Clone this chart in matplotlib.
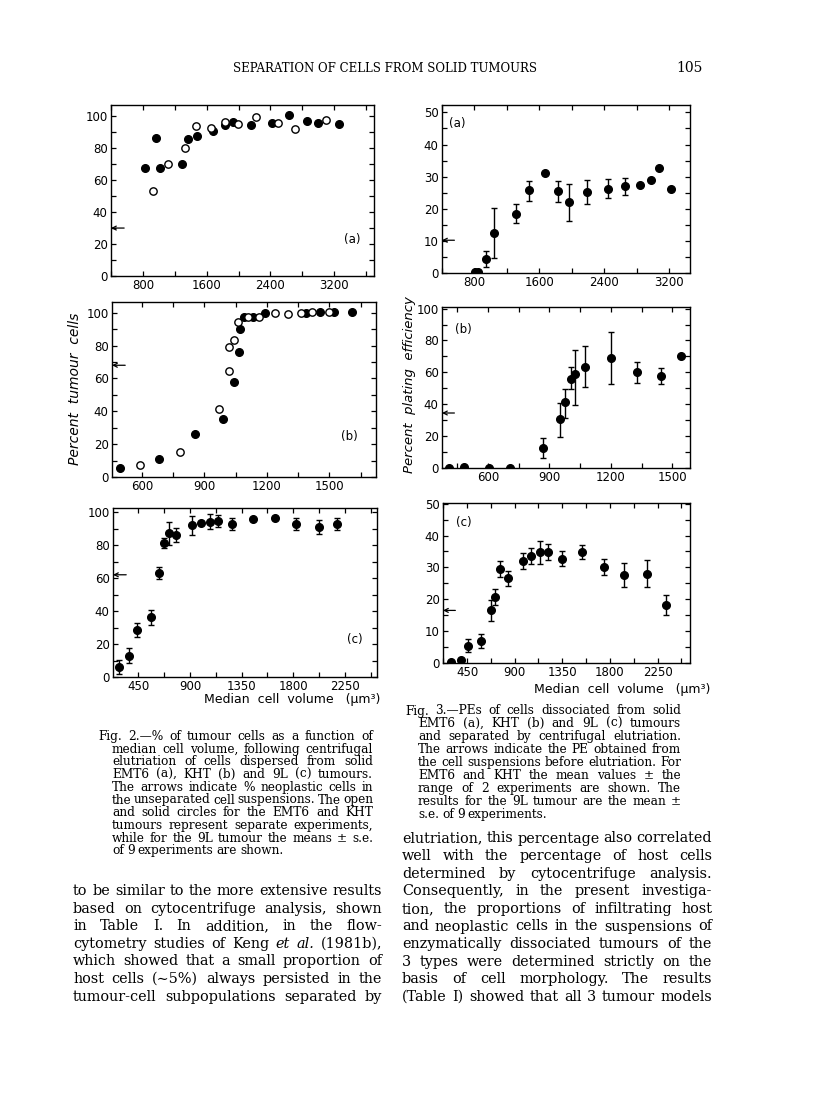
import matplotlib
matplotlib.use("Agg")
import matplotlib.pyplot as plt
from matplotlib.ticker import MultipleLocator

W, H = 816, 1115

# --- Fig. 2: percent tumour cells vs median cell volume ---
f2a_solid_x = [821, 967, 1013, 1288, 1363, 1475, 1675, 1830, 1934, 2155, 2417, 2634, 2863, 3000, 3267]
f2a_solid_y = [67.8, 86.5, 67.8, 69.9, 85.7, 87.5, 90.6, 94.2, 96.3, 94.4, 95.6, 100.6, 96.9, 96.0, 95.0]
f2a_open_x = [921, 1121, 1330, 1463, 1659, 1825, 1996, 2221, 2496, 2713, 3100]
f2a_open_y = [53.2, 69.9, 80.2, 93.6, 92.7, 96.5, 95.4, 99.6, 96.0, 91.7, 97.9]
f2a_arrow = 30

f2b_solid_x = [493, 683, 857, 988, 1041, 1067, 1073, 1092, 1132, 1193, 1386, 1455, 1522, 1607]
f2b_solid_y = [5.7, 11.2, 26.2, 35.2, 57.9, 76.0, 90.2, 97.2, 97.2, 99.6, 100.0, 100.6, 100.6, 100.6]
f2b_open_x = [589, 782, 969, 1020, 1020, 1043, 1063, 1108, 1163, 1238, 1300, 1365, 1418, 1497]
f2b_open_y = [7.1, 15.2, 41.3, 64.4, 79.1, 83.5, 94.5, 97.2, 97.2, 99.6, 99.2, 100.0, 100.4, 100.6]
f2b_arrow = 68

f2c_x = [282, 372, 441, 557, 633, 676, 720, 781, 917, 999, 1071, 1141, 1266, 1446, 1637, 1823, 2026, 2183]
f2c_y = [6.1, 13.0, 28.4, 36.1, 63.3, 81.3, 87.2, 86.0, 92.1, 93.3, 94.3, 94.7, 92.9, 95.9, 96.3, 92.7, 91.1, 92.7]
f2c_err = [4.2, 4.3, 4.3, 4.8, 3.6, 3.3, 6.9, 4.4, 5.8, 0, 4.5, 3.8, 3.8, 0, 0, 3.8, 4.3, 3.8]
f2c_arrow = 62

# --- Fig. 3: plating efficiency vs median cell volume ---
f3a_x = [812, 845, 944, 1046, 1317, 1469, 1670, 1830, 1961, 2187, 2453, 2659, 2843, 2979, 3081, 3225]
f3a_y = [0.3, 0.3, 4.5, 12.6, 18.5, 25.7, 31.2, 25.4, 22.0, 25.2, 26.2, 27.0, 27.3, 29.1, 32.6, 26.1]
f3a_lo = [0, 0, 2.6, 7.8, 3.0, 3.3, 0, 3.3, 5.8, 3.6, 2.7, 2.6, 0, 0, 0, 0]
f3a_hi = [0, 0, 2.5, 7.7, 3.0, 3.0, 0, 3.3, 5.6, 3.6, 3.0, 2.6, 0, 0, 0, 0]
f3a_arrow = 10.2

f3b_x = [412, 481, 603, 706, 868, 954, 974, 1004, 1026, 1074, 1199, 1329, 1443, 1542]
f3b_y = [0.3, 0.4, 0.3, 0.3, 12.8, 30.5, 41.2, 56.1, 59.2, 63.4, 69.2, 60.5, 57.7, 70.1]
f3b_lo = [0, 0, 0, 0, 6.5, 10.9, 9.8, 6.3, 19.9, 12.3, 16.2, 7.0, 5.2, 0]
f3b_hi = [0, 0, 0, 0, 6.1, 10.5, 8.6, 7.3, 14.6, 13.2, 16.1, 6.1, 5.0, 0]
f3b_arrow = 34.5

f3c_x = [298, 396, 458, 585, 673, 711, 758, 833, 975, 1058, 1142, 1217, 1346, 1541, 1749, 1931, 2152, 2331]
f3c_y = [0.3, 0.8, 5.4, 6.9, 16.5, 20.6, 29.5, 26.6, 32.0, 33.6, 34.8, 34.8, 32.7, 34.8, 30.0, 27.6, 28.0, 18.2]
f3c_err = [0, 0, 2.1, 2.3, 3.2, 2.5, 2.5, 2.4, 2.6, 2.6, 3.6, 2.4, 2.4, 2.3, 2.5, 3.9, 4.2, 3.1]
f3c_arrow = 16.5

fig2_caption = [
    "Fig. 2.\u2014% of tumour cells as a function of",
    "median cell volume, following centrifugal",
    "elutriation of cells dispersed from solid",
    "EMT6 (a), KHT (b) and 9L (c) tumours.",
    "The arrows indicate % neoplastic cells in",
    "the unseparated cell suspensions. The open",
    "and solid circles for the EMT6 and KHT",
    "tumours represent separate experiments,",
    "while for the 9L tumour the means \u00b1 s.e.",
    "of 9 experiments are shown.",
]
fig3_caption = [
    "Fig. 3.\u2014PEs of cells dissociated from solid",
    "EMT6 (a), KHT (b) and 9L (c) tumours",
    "and separated by centrifugal elutriation.",
    "The arrows indicate the PE obtained from",
    "the cell suspensions before elutriation. For",
    "EMT6 and KHT the mean values \u00b1 the",
    "range of 2 experiments are shown. The",
    "results for the 9L tumour are the mean \u00b1",
    "s.e. of 9 experiments.",
]
body_left = [
    "to be similar to the more extensive results",
    "based on cytocentrifuge analysis, shown",
    "in Table I. In addition, in the flow-",
    "cytometry studies of Keng _et _al. (1981b),",
    "which showed that a small proportion of",
    "host cells (\u223c5%) always persisted in the",
    "tumour-cell subpopulations separated by",
]
body_right = [
    "elutriation, this percentage also correlated",
    "well with the percentage of host cells",
    "determined by cytocentrifuge analysis.",
    "Consequently, in the present investiga-",
    "tion, the proportions of infiltrating host",
    "and neoplastic cells in the suspensions of",
    "enzymatically dissociated tumours of the",
    "3 types were determined strictly on the",
    "basis of cell morphology. The results",
    "(Table I) showed that all 3 tumour models",
]

plt.rcParams["font.family"] = "DejaVu Sans"
fig = plt.figure(figsize=(W / 100, H / 100), dpi=100)
fig.patch.set_facecolor("white")


def px_axes(left, top, right, bottom):
    return fig.add_axes([left / W, 1 - bottom / H, (right - left) / W, (bottom - top) / H])


def style(ax, xlim, ylim, xmaj, ymaj):
    ax.set_xlim(*xlim)
    ax.set_ylim(*ylim)
    ax.xaxis.set_major_locator(MultipleLocator(xmaj))
    ax.xaxis.set_minor_locator(MultipleLocator(xmaj / 2))
    ax.yaxis.set_major_locator(MultipleLocator(ymaj))
    ax.yaxis.set_minor_locator(MultipleLocator(ymaj / 2))
    ax.tick_params(which="both", direction="in", top=True, right=True,
                   length=3.5, width=0.9, labelsize=8.5, pad=2.5)
    for s in ax.spines.values():
        s.set_linewidth(1.0)


def arrow(ax, y):
    tr = ax.get_yaxis_transform()
    ax.annotate("", xy=(0.0, y), xycoords=tr, xytext=(0.05, y), textcoords=tr,
                arrowprops=dict(arrowstyle="->", lw=0.9, color="k", shrinkA=0, shrinkB=0,
                                mutation_scale=7),
                annotation_clip=False)


def solid(ax, x, y):
    ax.plot(x, y, "o", color="k", ms=5.5, ls="none", zorder=3)


def hollow(ax, x, y):
    ax.plot(x, y, "o", mfc="white", mec="k", mew=1.0, ms=5.3, ls="none", zorder=3)


def bars(ax, x, y, lo, hi):
    ax.errorbar(x, y, yerr=[lo, hi], fmt="o", color="k", ms=5.5, capsize=2,
                elinewidth=1.0, capthick=1.0, zorder=3)


# Fig. 2 (a)
ax = px_axes(111, 105, 374, 276)
style(ax, (400, 3700), (0, 107), 800, 20)
solid(ax, f2a_solid_x, f2a_solid_y)
hollow(ax, f2a_open_x, f2a_open_y)
arrow(ax, f2a_arrow)
ax.text(3430, 23, "(a)", fontsize=8.5, ha="center", va="center")

# Fig. 2 (b)
ax = px_axes(112, 302, 376, 477)
style(ax, (456, 1724), (0, 106.5), 300, 20)
solid(ax, f2b_solid_x, f2b_solid_y)
hollow(ax, f2b_open_x, f2b_open_y)
arrow(ax, f2b_arrow)
ax.text(1597, 24.5, "(b)", fontsize=8.5, ha="center", va="center")
fig.text(75 / W, 1 - 389 / H, "Percent  tumour  cells", fontsize=10, style="italic",
         rotation=90, ha="center", va="center")

# Fig. 2 (c)
ax = px_axes(113, 508, 377, 677)
style(ax, (229, 2529), (0, 102.5), 450, 20)
bars(ax, f2c_x, f2c_y, f2c_err, f2c_err)
arrow(ax, f2c_arrow)
ax.text(2340, 23, "(c)", fontsize=8.5, ha="center", va="center")
fig.text(292 / W, 1 - 700 / H, "Median  cell  volume   (\u03bcm\u00b3)", fontsize=9,
         ha="center", va="center")

# Fig. 3 (a)
ax = px_axes(442, 105, 690, 273)
style(ax, (400, 3460), (0, 52.3), 800, 10)
bars(ax, f3a_x, f3a_y, f3a_lo, f3a_hi)
arrow(ax, f3a_arrow)
ax.text(590, 46.5, "(a)", fontsize=8.5, ha="center", va="center")

# Fig. 3 (b)
ax = px_axes(442, 307, 690, 468)
style(ax, (376, 1586), (0, 101), 300, 20)
bars(ax, f3b_x, f3b_y, f3b_lo, f3b_hi)
arrow(ax, f3b_arrow)
ax.text(480, 87, "(b)", fontsize=8.5, ha="center", va="center")
fig.text(409 / W, 1 - 385 / H, "Percent  plating  efficiency", fontsize=9.5, style="italic",
         rotation=90, ha="center", va="center")

# Fig. 3 (c)
ax = px_axes(443, 503, 690, 663)
style(ax, (223, 2557), (0, 50.2), 450, 10)
bars(ax, f3c_x, f3c_y, f3c_err, f3c_err)
arrow(ax, f3c_arrow)
ax.text(420, 44.2, "(c)", fontsize=8.5, ha="center", va="center")
fig.text(622 / W, 1 - 690 / H, "Median  cell  volume   (\u03bcm\u00b3)", fontsize=9,
         ha="center", va="center")

# --- page text ---
renderer = fig.canvas.get_renderer()


def justified(lines, x_first, x_left, x_right, y0, dy, size, ragged_last):
    for i, line in enumerate(lines):
        xs = x_first if i == 0 else x_left
        yb = 1 - (y0 + i * dy) / H
        words = line.split(" ")
        items, widths = [], []
        for w in words:
            italic = w.startswith("_")
            t = fig.text(0, yb, w.lstrip("_"), fontsize=size, family="DejaVu Serif",
                         style="italic" if italic else "normal", va="baseline")
            items.append(t)
            widths.append(t.get_window_extent(renderer).width)
        if (ragged_last and i == len(lines) - 1) or len(words) == 1:
            gap = size * 0.35
        else:
            gap = (x_right - xs - sum(widths)) / (len(words) - 1)
        x = xs
        for t, w in zip(items, widths):
            t.set_x(x / W)
            x += w + gap


fig.text(385 / W, 1 - 72 / H, "SEPARATION OF CELLS FROM SOLID TUMOURS", fontsize=8.5,
         family="DejaVu Serif", ha="center", va="baseline")
fig.text(689 / W, 1 - 72 / H, "105", fontsize=10, family="DejaVu Serif",
         ha="center", va="baseline")

justified(fig2_caption, 98, 112, 373, 740, 12.7, 8.7, True)
justified(fig3_caption, 405, 418, 681, 714.5, 12.9, 8.7, True)
justified(body_left, 73, 73, 382, 895, 17.6, 10.4, False)
justified(body_right, 402, 402, 712, 842.5, 17.6, 10.4, False)

fig.savefig("out.png", dpi=100, facecolor="white")
